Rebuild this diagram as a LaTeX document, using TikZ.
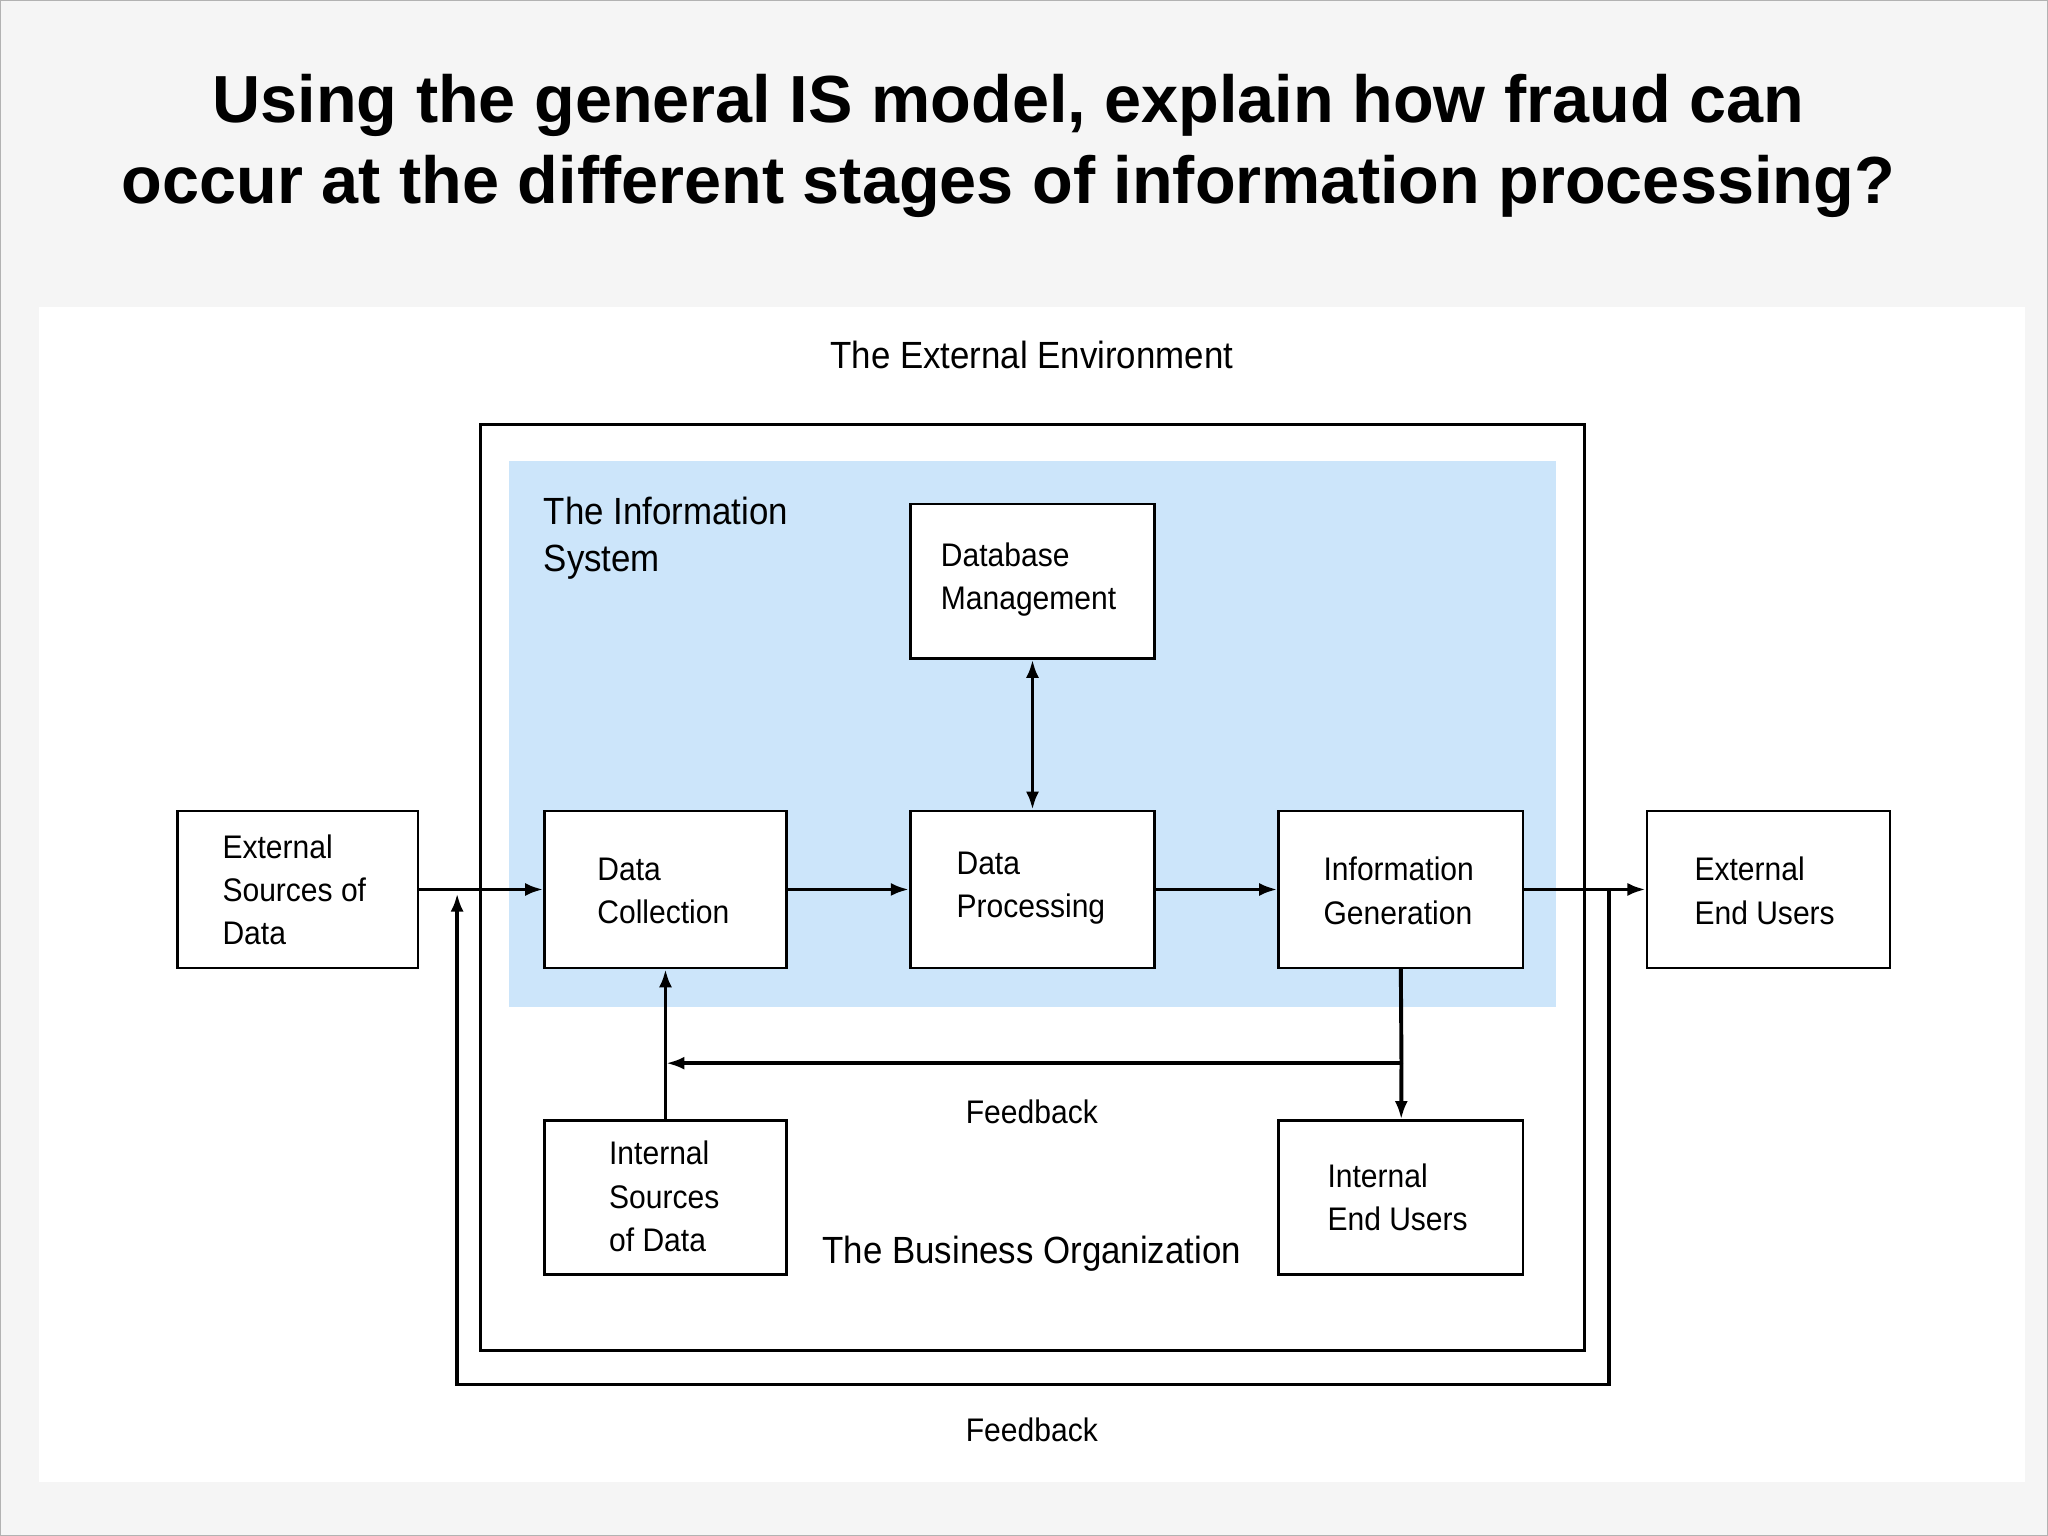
\documentclass[tikz,border=0pt]{standalone}
\usepackage{fontspec}
\setmainfont{Liberation Sans}
\usetikzlibrary{arrows.meta}
\definecolor{isblue}{HTML}{CCE5FA}
\begin{document}
\begin{tikzpicture}[x=0.5pt,y=-0.5pt,
  box/.style={draw,line width=1pt,fill=white},
  lab/.style={font=\fontsize{12.5}{16.5}\selectfont,align=left,anchor=west,inner sep=0,xscale=0.92},
  con/.style={line width=1.5pt},
  arr/.style={con,-{Latex[length=7pt,width=5pt]}}]
\useasboundingbox (0,0) rectangle (1568,1176);
\fill[gray!8] (0,0) rectangle (1568,1176);
\draw[gray!60] (0.5,0.5) rectangle (1567.5,1175.5);
\fill[white] (30,235) rectangle (1550,1135);
\node[font=\bfseries\fontsize{25.5}{31}\selectfont,align=center] (title) at (772,112) {Using the general IS model, explain how fraud can\\occur at the different stages of information processing?};
\node[font=\fontsize{14.5}{18}\selectfont,xscale=0.92] (env) at (790,272) {The External Environment};
\draw[line width=1pt] (368,325) rectangle (1213,1034);
\fill[isblue] (390,353) rectangle (1191,771);
\node[lab,font=\fontsize{14.5}{18}\selectfont,anchor=north west] (is) at (416,380) {The Information\\System};
\node[box,minimum width=93.5pt,minimum height=59pt] (db) at (790.5,445) {};
\node[lab] at (720,444) {Database\\Management};
\node[box,minimum width=92.5pt,minimum height=60pt] (dc) at (509.5,681) {};
\node[lab] at (457,682) {Data\\Collection};
\node[box,minimum width=93.5pt,minimum height=60pt] (dp) at (790.5,681) {};
\node[lab] at (732,680) {Data\\Processing};
\node[box,minimum width=93.5pt,minimum height=60pt] (ig) at (1072.5,681) {};
\node[lab] at (1013,682) {Information\\Generation};
\node[box,minimum width=92pt,minimum height=60pt] (es) at (228,681) {};
\node[lab] at (170,681) {External\\Sources of\\Data};
\node[box,minimum width=93pt,minimum height=60pt] (eu) at (1354,681) {};
\node[lab] at (1297,682) {External\\End Users};
\node[box,minimum width=92.5pt,minimum height=59pt] (is2) at (509.5,917) {};
\node[lab] at (466,916) {Internal\\Sources\\of Data};
\node[box,minimum width=93.5pt,minimum height=59pt] (ie) at (1072.5,917) {};
\node[lab] at (1016,917) {Internal\\End Users};
\node[font=\fontsize{12.5}{15}\selectfont,xscale=0.92] (fb1) at (790,851) {Feedback};
\node[font=\fontsize{12.5}{15}\selectfont,xscale=0.92] (fb2) at (790,1095) {Feedback};
\node[font=\fontsize{14.5}{18}\selectfont,xscale=0.92] (bo) at (790,960) {The Business Organization};
\draw[arr] (es) -- (dc);
\draw[arr] (dc) -- (dp);
\draw[arr] (dp) -- (ig);
\draw[arr] (ig) -- (eu);
\draw[con,{Latex[length=7pt,width=5pt]}-{Latex[length=7pt,width=5pt]}] (db) -- (dp);
\draw[arr] (is2) -- (dc);
\coordinate (f1) at (1073,814);
\coordinate (f2) at (510,814);
\draw[con] (ig.south) -- (f1);
\draw[arr] (f1) -- (f2);
\draw[arr] (f1) -- (ie);
\coordinate (o1) at (1232,681);
\coordinate (o2) at (1232,1060);
\coordinate (o3) at (350,1060);
\coordinate (o4) at (350,684);
\draw[arr] (o1) -- (o2) -- (o3) -- (o4);
\end{tikzpicture}
\end{document}
